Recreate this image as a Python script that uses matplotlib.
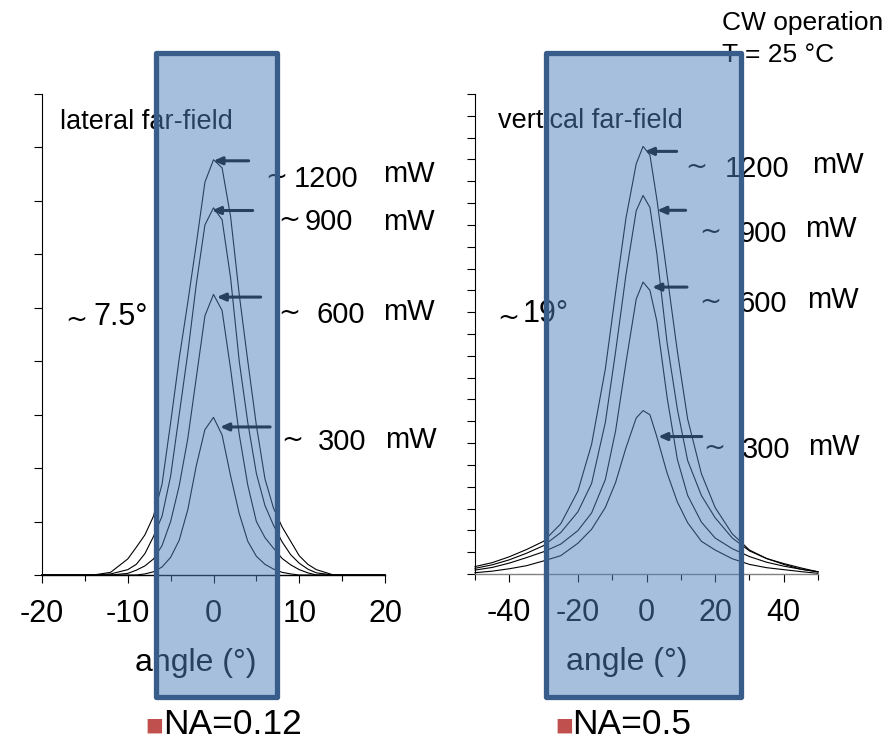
import matplotlib
matplotlib.use("Agg")
import matplotlib.pyplot as plt
from matplotlib.patches import Rectangle
from matplotlib.transforms import blended_transform_factory
from matplotlib.ticker import MultipleLocator

plt.rcParams['font.family'] = ['Liberation Sans', 'DejaVu Sans']

W, H = 889, 742

# ---------------- data ----------------
powers = ["1200", "900", "600", "300"]

lat_angle = [-20, -14, -12, -10, -9, -8, -7, -6, -5, -4, -3, -2, -1, 0,
             1, 2, 3, 4, 5, 6, 7, 8, 9, 10, 11, 12, 14, 20]
lat_1200 = [0, 0, 0.05, 0.30, 0.52, 0.75, 1.10, 1.70, 2.85, 4.05, 5.10, 6.20, 7.35, 7.77,
            7.62, 6.70, 5.25, 4.00, 2.80, 1.80, 1.25, 0.90, 0.63, 0.36, 0.20, 0.10, 0, 0]
lat_900 = [0, 0, 0.02, 0.10, 0.20, 0.40, 0.72, 1.10, 1.85, 3.00, 4.15, 5.45, 6.55, 6.87,
           6.65, 5.55, 4.00, 2.85, 1.90, 1.30, 0.93, 0.62, 0.38, 0.22, 0.11, 0.04, 0, 0]
lat_600 = [0, 0, 0, 0.03, 0.09, 0.17, 0.30, 0.55, 1.00, 1.67, 2.55, 3.70, 4.85, 5.25,
           4.95, 3.85, 2.63, 1.68, 1.00, 0.70, 0.50, 0.31, 0.19, 0.10, 0.04, 0, 0, 0]
lat_300 = [0, 0, 0, 0, 0, 0.02, 0.06, 0.15, 0.33, 0.65, 1.22, 2.05, 2.72, 2.95,
           2.62, 1.85, 1.15, 0.63, 0.35, 0.20, 0.11, 0.05, 0.02, 0, 0, 0, 0, 0]

ver_angle = [-50, -45, -40, -35, -30, -25, -20, -16, -12, -9, -6, -3, -1,
             1, 3, 6, 9, 12, 16, 20, 25, 30, 35, 40, 45, 50]
ver_1200 = [0.34, 0.52, 0.79, 1.12, 1.50, 2.30, 3.80, 5.95, 9.40, 12.9, 16.3, 18.8, 19.6,
            19.2, 17.2, 13.7, 10.2, 7.10, 4.60, 3.05, 1.84, 1.10, 0.71, 0.44, 0.22, 0.10]
ver_900 = [0.26, 0.42, 0.65, 0.95, 1.30, 1.90, 2.85, 4.15, 6.95, 10.2, 13.7, 16.65, 17.35,
           16.8, 14.7, 10.6, 7.55, 5.20, 3.60, 2.58, 1.65, 1.06, 0.71, 0.48, 0.28, 0.10]
ver_600 = [0.18, 0.30, 0.50, 0.75, 1.02, 1.37, 1.99, 2.80, 4.33, 6.57, 9.68, 12.6, 13.38,
           13.0, 11.6, 8.10, 5.25, 3.60, 2.38, 1.65, 1.16, 0.80, 0.54, 0.36, 0.22, 0.10]
ver_300 = [0.06, 0.13, 0.24, 0.38, 0.60, 0.84, 1.41, 2.05, 3.05, 4.20, 5.78, 7.15, 7.49,
           7.30, 6.30, 4.63, 3.30, 2.35, 1.50, 1.10, 0.70, 0.44, 0.29, 0.20, 0.11, 0.03]

# arrows pointing at the peaks: (tip x, tail x, y)
lat_arrow_tip = [-0.02, -0.2, 0.37, 0.76]
lat_arrow_tail = [4.1, 4.57, 5.5, 6.6]
lat_arrow_y = [7.75, 6.82, 5.2, 2.77]
ver_arrow_tip = [-0.5, 3.1, 1.64, 3.4]
ver_arrow_tail = [8.8, 11.4, 11.8, 16.1]
ver_arrow_y = [19.37, 16.67, 13.15, 6.3]

lat_xticks = [-20, -10, 0, 10, 20]
ver_xticks = [-40, -20, 0, 20, 40]
NA_box_lat = (-6.65, 7.35)
NA_box_ver = (-29.3, 27.6)

# ---------------- figure ----------------
fig = plt.figure(figsize=(W / 100, H / 100), dpi=100)


def fx(px):
    return px / W


def fy(py):
    return 1 - py / H


ax1 = fig.add_axes([fx(42), fy(575), 343 / W, 481 / H])
ax2 = fig.add_axes([fx(475), fy(574), 343 / W, 480 / H])

for ax, ang, series, xt, xlim, ylim in [
        (ax1, lat_angle, [lat_1200, lat_900, lat_600, lat_300], lat_xticks, (-20, 20), (0, 9)),
        (ax2, ver_angle, [ver_1200, ver_900, ver_600, ver_300], ver_xticks, (-50, 50), (0, 22))]:
    for s in series:
        ax.plot(ang, s, color='black', lw=0.8, zorder=2, clip_on=False)
    ax.set_xlim(*xlim)
    ax.set_ylim(*ylim)
    for sp in ('top', 'right'):
        ax.spines[sp].set_visible(False)
    ax.spines['left'].set_linewidth(0.8)
    ax.spines['bottom'].set_linewidth(1.0)
    ax.set_xticks(xt)
    ax.set_xticklabels([str(v) for v in xt])
    ax.yaxis.set_major_locator(MultipleLocator(1))
    ax.set_yticklabels([])
    ax.tick_params(axis='x', which='major', direction='out', length=6, width=0.8,
                   labelsize=22, pad=11)
    ax.tick_params(axis='x', which='minor', direction='out', length=4, width=0.8)
    ax.tick_params(axis='y', which='major', direction='out', length=6, width=0.8)
    ax.set_xlabel('angle (°)', fontsize=23)
    ax.patch.set_alpha(0)

ax1.xaxis.set_minor_locator(MultipleLocator(5))
ax2.xaxis.set_minor_locator(MultipleLocator(10))
ax2.spines['bottom'].set_color('#808080')
ax1.xaxis.set_label_coords(0.4475, -0.2)
ax2.xaxis.set_label_coords(0.443, -0.2)
ax1.xaxis.label.set_va('baseline')
ax2.xaxis.label.set_va('baseline')

# arrows
for ax, tips, tails, ys in [(ax1, lat_arrow_tip, lat_arrow_tail, lat_arrow_y),
                            (ax2, ver_arrow_tip, ver_arrow_tail, ver_arrow_y)]:
    for t, tl, y in zip(tips, tails, ys):
        ax.annotate('', xy=(t, y), xytext=(tl, y),
                    arrowprops=dict(arrowstyle='-|>,head_length=0.5,head_width=0.22',
                                    color='black', lw=2.2, shrinkA=0, shrinkB=0),
                    zorder=3)

# texts
txt = dict(color='black', va='baseline', ha='left', zorder=3)
tilde = dict(color='black', va='baseline', ha='left', zorder=3,
             family='DejaVu Sans', fontsize=19)
fig.text(fx(60), fy(129), 'lateral far-field', fontsize=19.5, **txt)
fig.text(fx(498), fy(128), 'vertical far-field', fontsize=19.5, **txt)
fig.text(fx(722), fy(30), 'CW operation', fontsize=19, **txt)
fig.text(fx(722), fy(61.5), 'T = 25 °C', fontsize=19, **txt)
fig.text(fx(65), fy(327), '~', **tilde)
fig.text(fx(93), fy(325), '7.5°', fontsize=22, **txt)
fig.text(fx(497), fy(325), '~', **tilde)
fig.text(fx(523), fy(322), '19°', fontsize=22, **txt)

# power labels: (tilde x, number x, baseline, mW x, mW baseline)
lat_lab = [(265, 294, 187, 383, 182), (278, 305, 230, 383, 230),
           (278, 316, 323, 383, 320), (281, 318, 450, 385, 448)]
ver_lab = [(685, 725, 177, 812, 173), (699, 739, 242, 805, 237),
           (699, 739, 312, 807, 308), (703, 742, 458, 808, 455)]
for labs in (lat_lab, ver_lab):
    for p, (tx, nx, by, mx, my) in zip(powers, labs):
        fig.text(fx(tx), fy(by - 3), '~', **tilde)
        fig.text(fx(nx), fy(by), p, fontsize=21, **txt)
        fig.text(fx(mx), fy(my), 'mW', fontsize=21, **txt)

# NA boxes (x in data units of each chart, y in figure units)
for ax, (x0, x1) in [(ax1, NA_box_lat), (ax2, NA_box_ver)]:
    tr = blended_transform_factory(ax.transData, fig.transFigure)
    r = Rectangle((x0, fy(697)), x1 - x0, fy(53) - fy(697), transform=tr,
                  facecolor=(79 / 255, 129 / 255, 189 / 255, 0.5),
                  edgecolor='#385D8A', lw=3.8, joinstyle='round', zorder=5)
    fig.add_artist(r)

# bottom NA labels
for bx, tx, label in [(144, 163, 'NA=0.12'), (554, 572, 'NA=0.5')]:
    fig.text(fx(bx), fy(734), '▪', fontsize=21, color='#C0504D', va='baseline',
             ha='left', family='DejaVu Sans')
    fig.text(fx(tx), fy(734), label, fontsize=25.5, **txt)

fig.savefig('out.png', dpi=100)
